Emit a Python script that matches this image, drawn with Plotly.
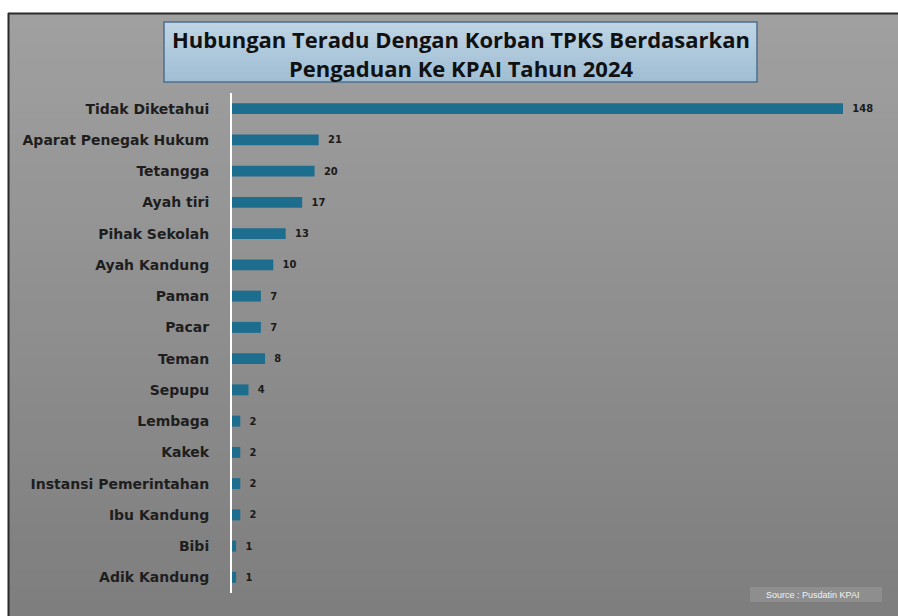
import plotly.graph_objects as go

categories = ["Tidak Diketahui", "Aparat Penegak Hukum", "Tetangga", "Ayah tiri",
              "Pihak Sekolah", "Ayah Kandung", "Paman", "Pacar", "Teman", "Sepupu",
              "Lembaga", "Kakek", "Instansi Pemerintahan", "Ibu Kandung", "Bibi",
              "Adik Kandung"]
values = [148, 21, 20, 17, 13, 10, 7, 7, 8, 4, 2, 2, 2, 2, 1, 1]

title_lines = ["Hubungan Teradu Dengan Korban TPKS Berdasarkan",
               "Pengaduan Ke KPAI Tahun 2024"]
source_text = "Source : Pusdatin KPAI"

W, H = 898, 616
L, R, T, B = 232, 18, 93, 23
PW, PH = W - L - R, H - T - B


def px(x):
    return (x - L) / PW


def py(y):
    return (H - B - y) / PH


shapes = []
# gray gradient background bands
x0, x1, y0, y1 = 8, 898, 13, 616
n = 40
for i in range(n):
    t = i / (n - 1)
    g = int(round(160 - t * (160 - 126)))
    ya = y0 + (y1 - y0) * i / n
    yb = min(y1, y0 + (y1 - y0) * (i + 1) / n + 2)
    shapes.append(dict(type="rect", xref="paper", yref="paper", layer="below",
                       x0=px(x0), x1=px(x1), y0=py(ya), y1=py(yb),
                       fillcolor=f"rgb({g},{g},{g})", line=dict(width=0)))
# frame border lines (top and left)
shapes.append(dict(type="line", xref="paper", yref="paper", layer="below",
                   x0=px(8), x1=px(898), y0=py(13.5), y1=py(13.5),
                   line=dict(color="#2a2a2a", width=2)))
shapes.append(dict(type="line", xref="paper", yref="paper", layer="below",
                   x0=px(8.5), x1=px(8.5), y0=py(13), y1=py(616),
                   line=dict(color="#2a2a2a", width=2)))
# title box with light-blue gradient
tb_x0, tb_x1, tb_y0, tb_y1 = 164, 757, 22, 82
m = 12
for i in range(m):
    t = i / (m - 1)
    r_ = int(round(190 - t * 30)); g_ = int(round(212 - t * 22)); b_ = int(round(228 - t * 16))
    ya = tb_y0 + (tb_y1 - tb_y0) * i / m
    yb = min(tb_y1, tb_y0 + (tb_y1 - tb_y0) * (i + 1) / m + 1.5)
    shapes.append(dict(type="rect", xref="paper", yref="paper", layer="below",
                       x0=px(tb_x0), x1=px(tb_x1), y0=py(ya), y1=py(yb),
                       fillcolor=f"rgb({r_},{g_},{b_})", line=dict(width=0)))
shapes.append(dict(type="rect", xref="paper", yref="paper", layer="below",
                   x0=px(tb_x0), x1=px(tb_x1), y0=py(tb_y0), y1=py(tb_y1),
                   fillcolor="rgba(0,0,0,0)", line=dict(color="#4d6f8f", width=1.5)))
# source box
shapes.append(dict(type="rect", xref="paper", yref="paper", layer="below",
                   x0=px(750), x1=px(882), y0=py(587), y1=py(602),
                   fillcolor="rgba(255,255,255,0.12)", line=dict(width=0)))

annotations = [
    dict(xref="paper", yref="paper", x=px(460.5), y=py(54), showarrow=False,
         text="<b>" + title_lines[0] + "</b><br><b>" + title_lines[1] + "</b>",
         font=dict(family="Open Sans", size=22, color="#111111"), align="center",
         xanchor="center", yanchor="middle"),
    dict(xref="paper", yref="paper", x=px(812), y=py(594.5), showarrow=False,
         text=source_text, font=dict(family="Liberation Sans", size=9, color="#f4f4f4"),
         xanchor="center", yanchor="middle"),
]

fig = go.Figure(go.Bar(
    x=values, y=categories, orientation="h", width=0.35,
    marker=dict(color="#1d6d8e", line=dict(width=0)),
    text=values, texttemplate="\u00a0\u00a0<b>%{x}</b>", textposition="outside",
    textfont=dict(family="DejaVu Sans", size=10, color="#1a1a1a"),
    cliponaxis=False, hoverinfo="skip",
))

fig.update_layout(
    width=W, height=H,
    margin=dict(l=L, r=R, t=T, b=B, pad=0),
    paper_bgcolor="white", plot_bgcolor="rgba(0,0,0,0)",
    shapes=shapes, annotations=annotations, showlegend=False,
    xaxis=dict(range=[0, PW / (611 / 148)], visible=False, showgrid=False, zeroline=False),
    yaxis=dict(autorange=False, range=[15.5, -0.5], showgrid=False, zeroline=False,
               showline=True, linecolor="white", linewidth=2,
               ticks="", ticklabelstandoff=18,
               tickfont=dict(family="DejaVu Sans", size=14, color="#1e1e1e", weight="bold")),
    bargap=0.65,
)

fig.write_html("out.html", config={"displayModeBar": False},
               post_script="document.body.style.margin='0';document.body.style.overflow='hidden';")
